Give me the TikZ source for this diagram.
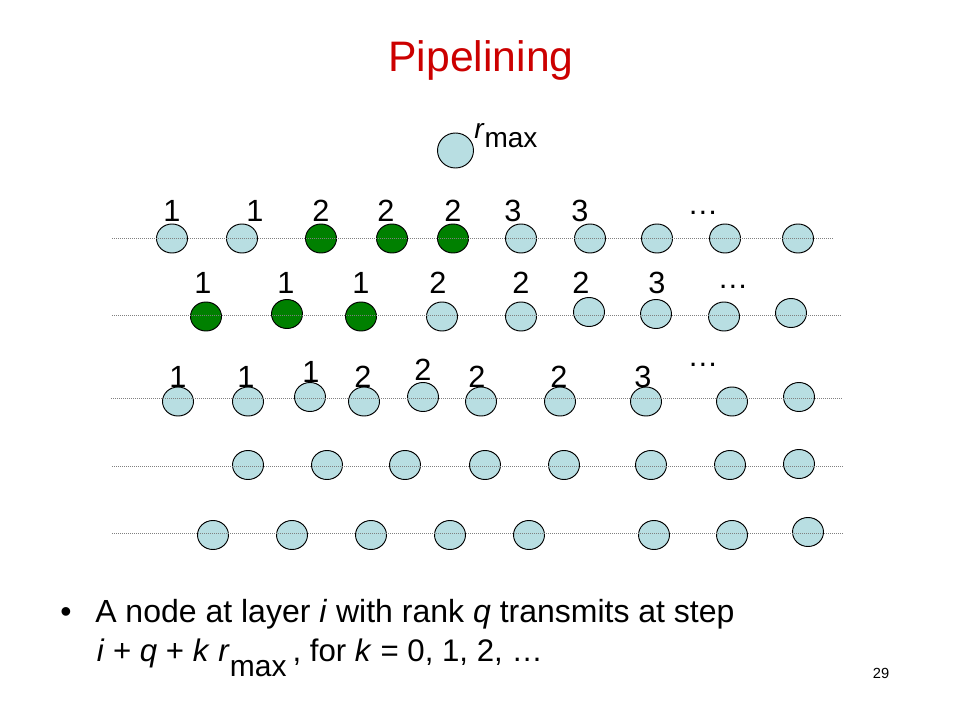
\documentclass[tikz,border=0pt]{standalone}
\usepackage{fontspec}
\setmainfont{Liberation Sans}
\usetikzlibrary{shapes.geometric}
\definecolor{nodeblue}{RGB}{184,222,226}
\definecolor{nodegreen}{RGB}{0,128,0}
\definecolor{titlered}{RGB}{204,0,0}
\tikzset{
  pnode/.style={ellipse,draw=black,line width=0.7pt,fill=nodeblue,inner sep=0pt,minimum width=23.25pt,minimum height=21.75pt},
  gnode/.style={pnode,fill=nodegreen},
  bignode/.style={pnode,minimum width=27pt,minimum height=26.25pt},
  rowline/.style={draw=gray,densely dotted,line width=0.5pt},
  lab/.style={anchor=base,inner sep=0pt,font=\fontsize{23}{27}\selectfont},
  body/.style={anchor=base west,inner sep=0pt,font=\fontsize{24}{28}\selectfont}
}
\begin{document}
\begin{tikzpicture}[x=0.75pt,y=-0.75pt]
\useasboundingbox (0,0) rectangle (960,720);
\fill[white] (0,0) rectangle (960,720);
% title
\node[anchor=base,inner sep=0pt,text=titlered,font=\fontsize{32}{36}\selectfont] (title) at (481,72) {Pipelining};
% r_max node
\node[bignode] (rmax) at (455.5,150.5) {};
\node[anchor=base west,inner sep=0pt,font=\fontsize{21}{25}\selectfont] (rmaxlab) at (474,138.3) {\textit{r}\raisebox{-6.9pt}{max}};
% row 1
\foreach \x/\s [count=\i] in {172/pnode,242/pnode,321/gnode,392/gnode,453/gnode,521/pnode,590/pnode,657/pnode,725/pnode,798/pnode}
  \node[\s] (ra\i) at (\x,238.5) {};
\foreach \x/\t/\y [count=\i] in {172/1/222,255/1/222,321/2/222,386/2/222,453/2/222,513/3/222,580/3/222,703/\dots/215}
  \node[lab] (la\i) at (\x,\y) {\t};
% row 2
\foreach \x/\y/\s [count=\i] in {206/316.5/gnode,287/314/gnode,361/316.5/gnode,442/316.5/pnode,521/316.5/pnode,589/312/pnode,656/314/pnode,724/316.5/pnode,791/313/pnode}
  \node[\s] (rb\i) at (\x,\y) {};
\foreach \x/\t/\y [count=\i] in {203/1/294,286/1/294,361/1/294,438/2/294,521/2/294,581/2/294,657/3/294,733/\dots/288}
  \node[lab] (lb\i) at (\x,\y) {\t};
% row 3
\foreach \x/\y [count=\i] in {178/401.5,248/401.5,310/397,364/401.5,423/397,481/401.5,560/401.5,646/401.5,732/401.5,799/397}
  \node[pnode] (rc\i) at (\x,\y) {};
\foreach \x/\t/\y [count=\i] in {178/1/387,246/1/387,311/1/382,363/2/387,423/2/380,477/2/387,559/2/387,643/3/387,703/\dots/366}
  \node[lab] (lc\i) at (\x,\y) {\t};
% row 4
\foreach \x/\y [count=\i] in {248/465,327/465,405/465,485/465,564/465,651/465,730/465,799/464}
  \node[pnode] (rd\i) at (\x,\y) {};
% row 5
\foreach \x/\y [count=\i] in {213/535,292/535,371/535,450/535,529/535,654/535,732/535,808/532}
  \node[pnode] (re\i) at (\x,\y) {};
% row lines
\coordinate (l1a) at (112,238.5); \coordinate (l1b) at (834,238.5);
\coordinate (l2a) at (112,315.5); \coordinate (l2b) at (842,315.5);
\coordinate (l3a) at (111,398.5); \coordinate (l3b) at (843,398.5);
\coordinate (l4a) at (112,466);   \coordinate (l4b) at (843,466);
\coordinate (l5a) at (112,533.5); \coordinate (l5b) at (843,533.5);
\draw[rowline] (l1a) -- (l1b);
\draw[rowline] (l2a) -- (l2b);
\draw[rowline] (l3a) -- (l3b);
\draw[rowline] (l4a) -- (l4b);
\draw[rowline] (l5a) -- (l5b);
% bullet text
\node[anchor=base,inner sep=0pt,font=\fontsize{24}{28}\selectfont] (bullet) at (66,622.5) {\textbullet};
\node[body] (line1) at (95,622.5) {A node at layer \textit{i} with rank \textit{q} transmits at step};
\node[body,font=\fontsize{23.4}{28}\selectfont] (line2) at (96.5,661.7) {\textit{i} + \textit{q} + \textit{k} \textit{r}\raisebox{-11.2pt}{\fontsize{22.5}{27}\selectfont max}\hspace{-2pt} , for \textit{k} = 0, 1, 2, \dots};
% page number
\node[anchor=base,inner sep=0pt,font=\fontsize{11}{13}\selectfont] (pagenum) at (881,678) {29};
\end{tikzpicture}
\end{document}
